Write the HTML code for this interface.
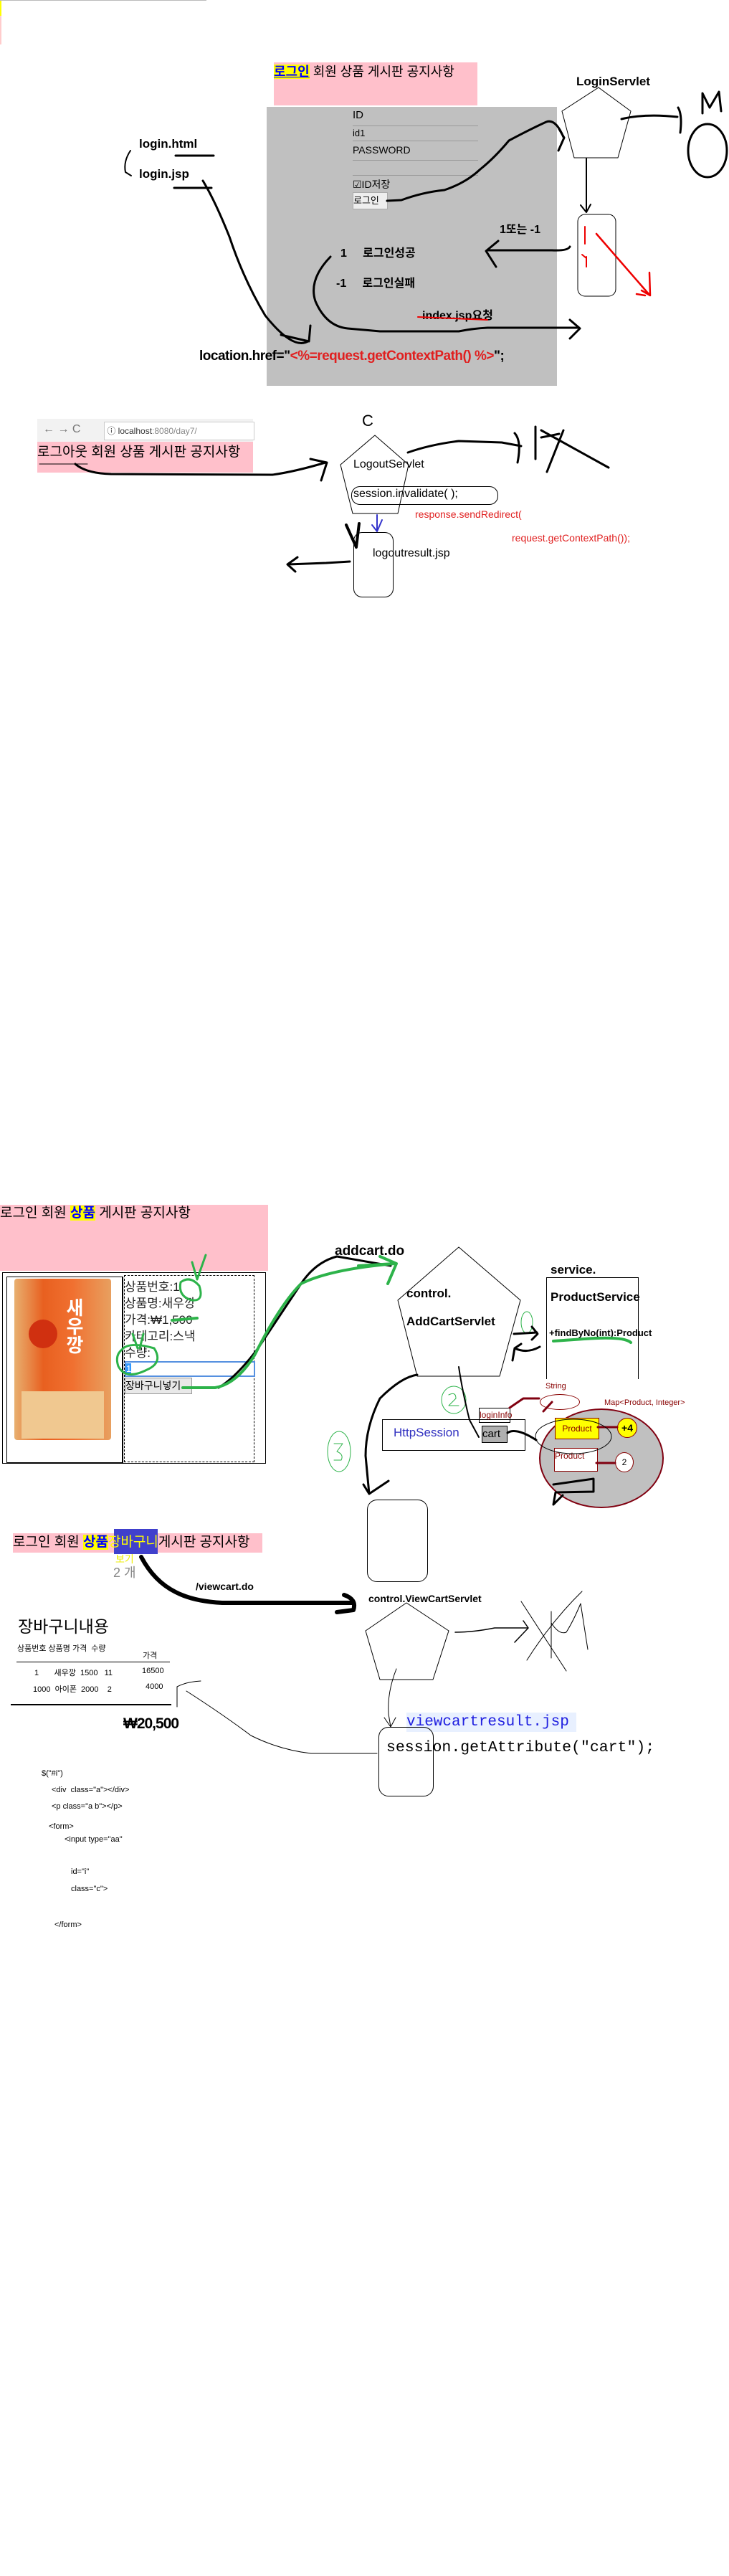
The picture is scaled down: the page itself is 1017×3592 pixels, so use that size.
<!DOCTYPE html>
<html><head><meta charset="utf-8">
<style>
body{margin:0;width:1017px;height:3592px;position:relative;background:#fff;font-family:"Liberation Sans","Noto Sans CJK KR",sans-serif;overflow:hidden}
.a{position:absolute;white-space:nowrap;line-height:1}
.b{font-weight:bold}
.r{color:#e02020}
.mono{font-family:"Liberation Mono","DejaVu Sans Mono",monospace}
svg{position:absolute;left:0;top:0}
</style></head><body>
<div class="a" style="left:0;top:0;width:288px;height:1px;background:#bbb"></div>
<div class="a" style="left:0;top:1px;width:2px;height:21px;background:#ff0"></div>
<div class="a" style="left:0;top:22px;width:2px;height:40px;background:#fcc"></div>

<div class="a" style="left:382px;top:87px;width:284px;height:60px;background:#ffc0cb"></div>
<div class="a" style="left:382px;top:91px;font-size:18px"><span style="background:#ff0;color:#00f;text-decoration:underline;font-weight:bold">로그인</span> 회원 상품 게시판 공지사항</div>
<div class="a" style="left:372px;top:149px;width:405px;height:389px;background:#c0c0c0"></div>
<div class="a" style="left:492px;top:153px;font-size:15px">ID</div>
<div class="a" style="left:492px;top:175px;width:175px;height:20px;border-top:1px solid #999;border-bottom:1px solid #999;font-size:13px;line-height:20px">id1</div>
<div class="a" style="left:492px;top:202px;font-size:14px">PASSWORD</div>
<div class="a" style="left:492px;top:223px;width:175px;height:20px;border-top:1px solid #999;border-bottom:1px solid #999"></div>
<div class="a" style="left:492px;top:250px;font-size:14px">☑ID저장</div>
<div class="a" style="left:492px;top:268px;width:47px;height:22px;background:#eee;border:1px solid #aaa;font-size:13px;line-height:22px">로그인</div>
<div class="a b" style="left:804px;top:105px;font-size:17px">LoginServlet</div>
<div class="a b" style="left:697px;top:313px;font-size:16px">1또는 -1</div>
<div class="a b" style="left:475px;top:346px;font-size:16px">1&nbsp;&nbsp;&nbsp;&nbsp; 로그인성공</div>
<div class="a b" style="left:469px;top:388px;font-size:16px">-1&nbsp;&nbsp;&nbsp;&nbsp; 로그인실패</div>
<div class="a b" style="left:589px;top:433px;font-size:16px">index.jsp요청</div>
<div class="a" style="left:278px;top:487px;font-size:19px;letter-spacing:-0.5px"><b>location.href="</b><span class="r b">&lt;%=request.getContextPath() %&gt;</span><b>";</b></div>
<div class="a b" style="left:194px;top:192px;font-size:17px">login.html</div>
<div class="a b" style="left:194px;top:234px;font-size:17px">login.jsp</div>

<div class="a" style="left:52px;top:584px;width:301px;height:32px;background:#f2f2f2"></div>
<div class="a" style="left:60px;top:591px;font-size:16px;color:#777">← → C</div>
<div class="a" style="left:145px;top:588px;width:208px;height:24px;background:#fff;border:1px solid #ccc;font-size:12px;line-height:24px;color:#333">&nbsp;ⓘ localhost<span style="color:#888">:8080/day7/</span></div>
<div class="a" style="left:52px;top:616px;width:301px;height:43px;background:#ffc0cb"></div>
<div class="a" style="left:52px;top:621px;font-size:19px">로그아웃 회원 상품 게시판 공지사항</div>
<div class="a" style="left:505px;top:576px;font-size:22px">C</div>
<div class="a" style="left:493px;top:640px;font-size:16px">LogoutServlet</div>
<div class="a" style="left:490px;top:678px;width:203px;height:24px;border:1px solid #000;border-radius:12px"></div>
<div class="a" style="left:493px;top:681px;font-size:16px">session.invalidate( );</div>
<div class="a r" style="left:579px;top:710px;font-size:14px">response.sendRedirect(</div>
<div class="a r" style="left:714px;top:743px;font-size:14px">request.getContextPath());</div>
<div class="a" style="left:493px;top:742px;width:54px;height:89px;border:1px solid #000;border-radius:12px"></div>
<div class="a" style="left:520px;top:764px;font-size:16px">logoutresult.jsp</div>

<div class="a" style="left:0;top:1680px;width:374px;height:92px;background:#ffc0cb"></div>
<div class="a" style="left:0;top:1682px;font-size:19px">로그인 회원 <span style="background:#ff0;color:#00f;font-weight:bold">상품</span> 게시판 공지사항</div>
<div class="a" style="left:3px;top:1774px;width:366px;height:265px;border:1px solid #000"></div>
<div class="a" style="left:9px;top:1780px;width:160px;height:258px;border:1px solid #000;border-right-width:2px;border-bottom-width:2px"></div>
<div class="a" style="left:20px;top:1783px;width:135px;height:225px;background:linear-gradient(90deg,#e8b070,#e86020 30%,#f07030 60%,#e8a060);border-radius:4px"></div>
<div class="a" style="left:30px;top:1940px;width:115px;height:66px;background:#f0c890"></div>
<div class="a b" style="left:90px;top:1810px;font-size:26px;color:#fff;writing-mode:vertical-rl;line-height:1">새우깡</div>
<div class="a" style="left:40px;top:1840px;width:40px;height:40px;border-radius:50%;background:#d03010"></div>
<div class="a" style="left:173px;top:1778px;width:180px;height:259px;border:1px dashed #000"></div>
<div class="a" style="left:174px;top:1783px;font-size:17px;line-height:23px;color:#222;white-space:normal">상품번호:1<br>상품명:새우깡<br>가격:₩1,500<br>카테고리:스낵<br>수량:</div>
<div class="a" style="left:174px;top:1898px;width:178px;height:18px;border:2px solid #5590e0;font-size:13px;line-height:18px;background:#fff"><span style="background:#39f;color:#fff">1</span></div>
<div class="a" style="left:174px;top:1921px;width:92px;height:21px;background:#e8e8e8;border:1px solid #999;font-size:14px;line-height:21px">장바구니넣기</div>
<div class="a b" style="left:467px;top:1735px;font-size:19px">addcart.do</div>
<div class="a b" style="left:567px;top:1795px;font-size:17px">control.</div>
<div class="a b" style="left:567px;top:1834px;font-size:17px">AddCartServlet</div>
<div class="a b" style="left:768px;top:1762px;font-size:17px">service.</div>
<div class="a" style="left:762px;top:1781px;width:127px;height:141px;border:1px solid #000;border-bottom:none"></div>
<div class="a b" style="left:768px;top:1800px;font-size:17px">ProductService</div>
<div class="a b" style="left:766px;top:1852px;font-size:13px">+findByNo(int):Product</div>
<div class="a" style="left:533px;top:1979px;width:198px;height:42px;border:1px solid #000"></div>
<div class="a" style="left:549px;top:1989px;font-size:17px;color:#3030c0">HttpSession</div>
<div class="a" style="left:672px;top:1988px;width:34px;height:22px;background:#b0b0b0;border:1px solid #000;font-size:15px;line-height:22px">cart</div>
<div class="a" style="left:668px;top:1963px;width:42px;height:19px;border:1px solid #000;font-size:12px;line-height:19px;color:#800">loginInfo</div>
<div class="a" style="left:752px;top:1964px;width:170px;height:135px;border-radius:50%;background:#c0c0c0;border:2px solid #800010"></div>
<div class="a" style="left:753px;top:1944px;width:54px;height:20px;border:1px solid #800;border-radius:50%;background:#fff"></div>
<div class="a" style="left:761px;top:1928px;font-size:11px;color:#800">String</div>
<div class="a" style="left:843px;top:1951px;font-size:11px;color:#800">Map&lt;Product, Integer&gt;</div>
<div class="a" style="left:774px;top:1977px;width:60px;height:28px;background:#ff0;border:1px solid #800;font-size:12px;line-height:28px;color:#800;text-align:center">Product</div>
<div class="a" style="left:773px;top:2019px;width:59px;height:31px;background:#fff;border:1px solid #800;font-size:12px;line-height:20px;color:#800">Product</div>
<div class="a" style="left:861px;top:1977px;width:26px;height:26px;border-radius:50%;background:#ff0;border:1px solid #800;font-size:14px;line-height:26px;text-align:center;font-weight:bold">+4</div>
<div class="a" style="left:858px;top:2025px;width:24px;height:26px;border-radius:50%;background:#fff;border:1px solid #800;font-size:12px;line-height:26px;text-align:center">2</div>
<div class="a" style="left:512px;top:2091px;width:83px;height:113px;border:1px solid #000;border-radius:14px"></div>

<div class="a" style="left:18px;top:2138px;width:348px;height:27px;background:#ffc0cb"></div>
<div class="a" style="left:159px;top:2132px;width:61px;height:35px;background:#4040cc"></div>
<div class="a" style="left:18px;top:2141px;font-size:19px">로그인 회원 <span style="background:#ff0;color:#00f;font-weight:bold">상품</span><span style="color:#ff0">장바구니</span>게시판 공지사항</div>
<div class="a" style="left:161px;top:2167px;font-size:14px;color:#ee0">보기</div>
<div class="a" style="left:158px;top:2184px;font-size:18px;color:#888">2 개</div>
<div class="a b" style="left:273px;top:2205px;font-size:14px">/viewcart.do</div>
<div class="a b" style="left:514px;top:2222px;font-size:14px">control.ViewCartServlet</div>
<div class="a" style="left:25px;top:2257px;font-size:23px">장바구니내용</div>
<div class="a" style="left:24px;top:2294px;font-size:11px">상품번호 상품명 가격&nbsp; 수량</div>
<div class="a" style="left:199px;top:2304px;font-size:11px">가격</div>
<div class="a" style="left:23px;top:2317px;width:214px;height:1px;background:#000"></div>
<div class="a" style="left:48px;top:2328px;font-size:11px">1&nbsp;&nbsp;&nbsp;&nbsp;&nbsp;&nbsp; 새우깡&nbsp; 1500&nbsp;&nbsp; 11</div>
<div class="a" style="left:198px;top:2325px;font-size:11px">16500</div>
<div class="a" style="left:46px;top:2351px;font-size:11px">1000&nbsp; 아이폰&nbsp; 2000&nbsp;&nbsp;&nbsp; 2</div>
<div class="a" style="left:203px;top:2347px;font-size:11px">4000</div>
<div class="a" style="left:15px;top:2376px;width:224px;height:1px;background:#000;border-bottom:1px solid #000"></div>
<div class="a b" style="left:172px;top:2393px;font-size:21px;letter-spacing:-1px">₩20,500</div>
<div class="a mono" style="left:567px;top:2388px;width:237px;height:27px;background:#e8f0ff;color:#2020e0;font-size:21px;line-height:27px">viewcartresult.jsp</div>
<div class="a" style="left:528px;top:2408px;width:75px;height:95px;border:1px solid #000;border-radius:14px"></div>
<div class="a mono" style="left:539px;top:2427px;font-size:21.5px">session.getAttribute("cart");</div>
<div class="a" style="left:58px;top:2468px;font-size:11px;line-height:1">$("#i")</div>
<div class="a" style="left:72px;top:2491px;font-size:11px">&lt;div&nbsp; class="a"&gt;&lt;/div&gt;</div>
<div class="a" style="left:72px;top:2514px;font-size:11px">&lt;p class="a b"&gt;&lt;/p&gt;</div>
<div class="a" style="left:68px;top:2542px;font-size:11px">&lt;form&gt;</div>
<div class="a" style="left:90px;top:2560px;font-size:11px">&lt;input type="aa"</div>
<div class="a" style="left:99px;top:2605px;font-size:11px">id="i"</div>
<div class="a" style="left:99px;top:2629px;font-size:11px">class="c"&gt;</div>
<div class="a" style="left:76px;top:2679px;font-size:11px">&lt;/form&gt;</div>

<svg width="1017" height="3592" viewBox="0 0 1017 3592" fill="none" stroke="#000" stroke-linecap="round" stroke-linejoin="round">
<polygon points="835,122 784,155 801,220 862,220 880,155" stroke-width="1"/>
<path d="M818,221 L818,295 M810,286 L818,296 L824,285" stroke-width="2"/>
<rect x="806" y="299" width="53" height="114" rx="10" stroke-width="1"/>
<path d="M816,316 L816,340 M812,355 L818,360 M818,358 L818,372" stroke="#e00" stroke-width="2"/>
<path d="M832,326 Q870,370 905,410 M895,405 L907,412 L906,380 M888,410 L900,412" stroke="#e00" stroke-width="2.5"/>
<path d="M795,344 Q792,350 770,349 L680,349 M695,336 L678,350 L692,372" stroke-width="3"/>
<path d="M461,358 Q430,390 440,420 Q455,455 485,458 L530,462 L640,462 Q660,458 680,457 L808,457 M795,446 L809,458 L795,472" stroke-width="3"/>
<path d="M583,442 L680,446" stroke="#e00" stroke-width="2"/>
<path d="M540,280 L560,279 Q590,268 620,265 Q650,255 670,236 Q690,220 710,196 Q740,180 762,170 Q775,165 786,191 M780,180 L787,192 L779,210" stroke-width="3"/>
<path d="M245,217 L298,217 M243,262 L295,262" stroke-width="3"/>
<path d="M182,210 Q172,225 175,240 L183,245" stroke-width="2"/>
<path d="M283,252 Q300,280 320,330 Q340,390 370,440 Q410,490 431,475 M392,467 L431,476 L433,454" stroke-width="3"/>
<path d="M867,166 Q900,158 945,163 M946,150 Q952,160 949,185" stroke-width="3"/>
<path d="M980,158 L980,130 L990,150 L1003,128 L1006,155" stroke-width="3"/>
<ellipse cx="987" cy="210" rx="27" ry="37" stroke-width="3"/>
<polygon points="523,607 475,648 492,716 555,716 570,648" stroke-width="1"/>
<path d="M55,647 L122,647" stroke-width="1"/>
<path d="M105,647 Q120,660 155,661 L380,662 Q410,658 454,645 M433,640 L456,645 L448,670" stroke-width="3"/>
<path d="M569,631 Q600,620 640,615 L700,617 L727,622 M718,604 Q728,615 722,645" stroke-width="3"/>
<path d="M747,595 L747,640 M755,600 L849,652 M786,600 L763,658 M755,610 L780,605" stroke-width="3"/>
<path d="M526,718 L526,740 M519,732 L526,741 L533,725" stroke="#33c" stroke-width="2"/>
<path d="M483,732 L497,763 L501,730" stroke-width="4"/>
<path d="M488,783 L455,785 L402,787 M415,777 L401,787 L412,797" stroke-width="3"/>
<polygon points="640,1739 555,1813 582,1919 697,1919 726,1813" stroke-width="1"/>
<path d="M305,1935 Q330,1920 360,1880 Q400,1820 420,1790 Q440,1760 470,1752 L545,1765" stroke-width="3"/>
<path d="M255,1935 L300,1935 Q330,1930 355,1890 Q390,1820 420,1790 Q460,1770 550,1762 M530,1752 L553,1762 L541,1790 M500,1765 L550,1762" stroke="#2db34a" stroke-width="4"/>
<path d="M252,1788 Q265,1778 278,1793 Q285,1815 268,1813 Q248,1808 252,1788 Z M268,1760 L275,1784 L287,1750" stroke="#2db34a" stroke-width="3"/>
<path d="M170,1882 Q180,1870 215,1880 Q228,1900 205,1910 Q175,1925 165,1905 Q160,1890 170,1882 M192,1880 L185,1860 M200,1860 L195,1880" stroke="#2db34a" stroke-width="3"/>
<path d="M240,1841 L275,1838" stroke="#2db34a" stroke-width="4"/>
<path d="M772,1870 Q800,1868 815,1867 Q870,1863 880,1872" stroke="#2db34a" stroke-width="4"/>
<ellipse cx="735" cy="1844" rx="8" ry="15" stroke="#2db34a" stroke-width="1"/>
<ellipse cx="633" cy="1952" rx="17" ry="19" stroke="#2db34a" stroke-width="1"/>
<path d="M626,1945 Q636,1940 636,1950 L626,1960 L640,1960" stroke="#2db34a" stroke-width="1"/>
<ellipse cx="473" cy="2024" rx="16" ry="28" stroke="#2db34a" stroke-width="1"/>
<path d="M466,2013 L478,2013 L470,2024 Q480,2028 476,2036 L466,2036" stroke="#2db34a" stroke-width="1"/>
<path d="M717,1860 L749,1858 M742,1850 L750,1860 L742,1868 M753,1878 Q735,1888 718,1880 L715,1897 M718,1880 L727,1874" stroke-width="3"/>
<path d="M582,1917 Q560,1920 530,1950 Q510,1990 510,2030 L515,2083 M507,2070 L515,2083 L542,2065" stroke-width="3"/>
<path d="M640,1906 Q645,1940 655,1980 L668,2004" stroke-width="2"/>
<path d="M708,1998 Q720,1990 748,2008" stroke-width="3"/>
<path d="M711,1963 L730,1950 L752,1950 M758,1968 L770,1955" stroke="#800010" stroke-width="3"/>
<path d="M834,1990 L861,1990 M832,2040 L858,2040" stroke="#800010" stroke-width="3"/>
<ellipse cx="800" cy="2003" rx="53" ry="24" stroke-width="1"/>
<path d="M772,2070 L828,2062 L828,2080 L775,2081 L772,2098 L785,2085" stroke-width="3"/>
<polygon points="567,2235 510,2274 530,2342 604,2342 626,2274" stroke-width="1"/>
<path d="M197,2171 Q215,2205 245,2220 Q270,2233 310,2235 L493,2235 M480,2224 Q498,2230 493,2245 L470,2248" stroke-width="6"/>
<path d="M635,2276 Q660,2276 690,2270 L737,2270 M730,2260 L737,2270 L718,2290" stroke-width="1.5"/>
<path d="M727,2233 L790,2330 M735,2315 Q770,2260 812,2219 M769,2247 L769,2312 M769,2263 Q780,2280 790,2276 Q800,2260 810,2236 L820,2300" stroke-width="1"/>
<path d="M553,2327 Q540,2360 542,2390 L545,2408 M536,2395 L545,2408 L552,2395" stroke-width="1"/>
<path d="M526,2445 L434,2445 Q390,2440 350,2420 Q310,2390 260,2358 M247,2380 L247,2352 Q260,2345 280,2344" stroke-width="1"/>
</svg>
</body></html>
